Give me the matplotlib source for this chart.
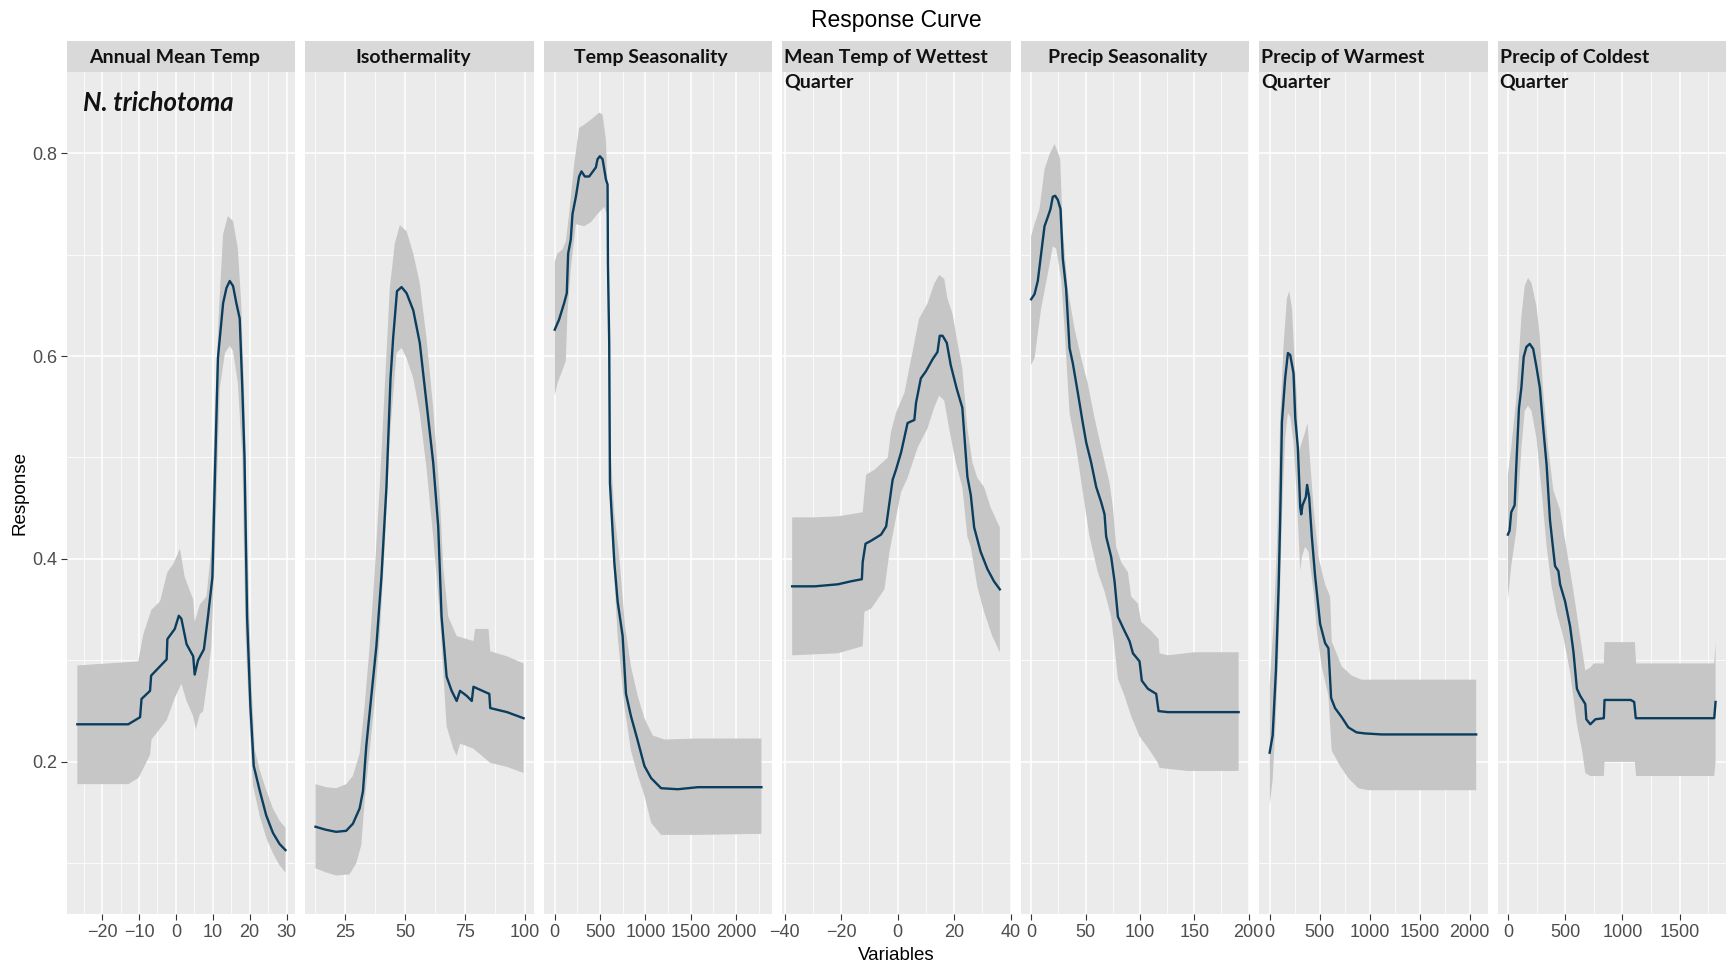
import numpy as np
import matplotlib
matplotlib.use("Agg")
from matplotlib import pyplot as plt
from matplotlib.ticker import MultipleLocator
from matplotlib.patches import Rectangle

# ---- data (x, response, upper/lower band) ----
amt_x = [-26.7, -12.9, -9.7, -9.3, -7.0, -6.7, -2.5, -2.3, -0.3, 0.8, 1.5, 2.9, 4.7, 5.1, 6.0, 7.6, 8.7, 9.9, 10.5,
         11.4, 12.8, 13.7, 14.6, 15.5, 16.4, 17.3, 18.0, 18.6, 19.3, 20.2, 21.1, 22.7, 24.5, 26.3, 28.1, 29.7]
amt_y = [0.237, 0.237, 0.244, 0.262, 0.270, 0.285, 0.301, 0.321, 0.331, 0.344, 0.341, 0.316, 0.304, 0.286, 0.300,
         0.311, 0.343, 0.382, 0.470, 0.598, 0.652, 0.667, 0.674, 0.669, 0.652, 0.637, 0.569, 0.500, 0.343, 0.255,
         0.196, 0.172, 0.147, 0.130, 0.119, 0.113]
amt_hi_x = [-26.7, -10.2, -8.8, -6.6, -4.3, -2.3, -0.7, 1.1, 2.4, 4.7, 5.1, 6.5, 8.3, 9.6, 10.5, 11.7, 12.8, 14.1,
            15.5, 16.8, 17.7, 18.6, 19.5, 20.5, 21.4, 22.7, 24.5, 26.3, 28.1, 29.7]
amt_hi = [0.295, 0.299, 0.326, 0.350, 0.358, 0.387, 0.395, 0.410, 0.382, 0.360, 0.338, 0.355, 0.363, 0.410, 0.540,
          0.647, 0.720, 0.738, 0.733, 0.706, 0.652, 0.554, 0.398, 0.275, 0.212, 0.192, 0.172, 0.154, 0.142, 0.135]
amt_lo_x = [-26.7, -12.9, -10.2, -9.3, -7.0, -6.6, -2.5, -0.3, 1.5, 2.9, 4.7, 5.4, 6.5, 7.4, 8.7, 9.6, 10.5, 11.9,
            13.3, 14.6, 15.5, 16.8, 18.0, 18.9, 20.0, 20.9, 22.7, 24.5, 26.3, 28.1, 29.7]
amt_lo = [0.178, 0.178, 0.184, 0.190, 0.207, 0.222, 0.241, 0.263, 0.277, 0.260, 0.245, 0.232, 0.247, 0.250, 0.284,
          0.314, 0.397, 0.568, 0.603, 0.610, 0.605, 0.573, 0.500, 0.324, 0.236, 0.177, 0.147, 0.125, 0.110, 0.098,
          0.091]

iso_x = [12.6, 17.0, 21.2, 25.4, 28.2, 31.0, 32.4, 33.8, 35.9, 38.0, 40.1, 42.2, 43.9, 45.0, 46.6, 48.5, 50.6, 53.4,
         56.1, 58.9, 61.7, 63.8, 65.2, 67.3, 69.4, 71.5, 72.9, 75.7, 77.8, 78.5, 81.3, 85.1, 85.5, 92.5, 99.4]
iso_y = [0.136, 0.133, 0.131, 0.132, 0.139, 0.154, 0.171, 0.216, 0.265, 0.314, 0.382, 0.471, 0.578, 0.618, 0.664,
         0.668, 0.662, 0.645, 0.613, 0.554, 0.495, 0.432, 0.343, 0.284, 0.270, 0.260, 0.270, 0.265, 0.260, 0.274,
         0.271, 0.267, 0.253, 0.249, 0.243]
iso_hi_x = [12.6, 17.0, 21.2, 25.4, 28.2, 31.0, 33.1, 35.2, 37.3, 39.4, 41.5, 43.6, 45.7, 47.8, 50.6, 53.4, 56.1,
            58.9, 61.7, 64.5, 65.9, 68.0, 71.5, 78.5, 79.2, 84.8, 85.5, 92.5, 99.4]
iso_hi = [0.178, 0.175, 0.174, 0.178, 0.186, 0.208, 0.255, 0.314, 0.387, 0.471, 0.569, 0.667, 0.711, 0.729, 0.723,
          0.701, 0.672, 0.618, 0.549, 0.460, 0.392, 0.343, 0.324, 0.319, 0.331, 0.331, 0.309, 0.304, 0.297]
iso_lo_x = [12.6, 17.0, 21.2, 26.8, 29.6, 31.7, 33.1, 35.2, 37.3, 39.4, 41.5, 43.6, 46.4, 48.5, 50.6, 53.4, 56.1,
            58.9, 61.7, 64.5, 67.3, 70.1, 71.5, 72.9, 78.5, 85.5, 92.5, 99.4]
iso_lo = [0.095, 0.091, 0.088, 0.089, 0.100, 0.118, 0.161, 0.211, 0.260, 0.324, 0.412, 0.520, 0.603, 0.608, 0.598,
          0.578, 0.544, 0.490, 0.422, 0.343, 0.235, 0.213, 0.206, 0.218, 0.213, 0.199, 0.195, 0.189]

ts_x = [0, 48, 103, 133, 148, 177, 196, 233, 269, 295, 332, 380, 454, 472, 498, 528, 565, 583, 587, 601, 609, 627,
        657, 694, 749, 786, 841, 915, 989, 1063, 1173, 1358, 1579, 2280]
ts_y = [0.626, 0.636, 0.652, 0.662, 0.701, 0.715, 0.740, 0.757, 0.777, 0.782, 0.777, 0.777, 0.786, 0.794, 0.797,
        0.794, 0.774, 0.769, 0.691, 0.613, 0.475, 0.446, 0.397, 0.358, 0.324, 0.267, 0.245, 0.221, 0.196, 0.184,
        0.174, 0.173, 0.175, 0.175]
ts_hi_x = [0, 30, 85, 122, 159, 214, 269, 325, 399, 491, 528, 565, 583, 600, 615, 657, 712, 775, 841, 915, 989,
           1081, 1210, 1579, 2280]
ts_hi = [0.693, 0.701, 0.705, 0.713, 0.740, 0.789, 0.825, 0.828, 0.833, 0.840, 0.838, 0.813, 0.764, 0.620, 0.510,
         0.446, 0.402, 0.334, 0.294, 0.265, 0.243, 0.226, 0.222, 0.223, 0.223]
ts_lo_x = [0, 30, 122, 140, 177, 233, 325, 399, 472, 546, 576, 590, 603, 638, 694, 768, 841, 915, 989, 1063, 1173,
           1579, 2280]
ts_lo = [0.561, 0.573, 0.595, 0.642, 0.686, 0.730, 0.728, 0.732, 0.740, 0.747, 0.740, 0.620, 0.470, 0.412, 0.324,
         0.255, 0.211, 0.187, 0.167, 0.140, 0.128, 0.128, 0.129]

mtw_x = [-37.4, -29.4, -21.2, -16.5, -12.7, -12.4, -11.4, -9.4, -5.9, -4.1, -2.9, -1.8, -0.6, 1.2, 3.5, 5.9, 6.5,
         8.2, 10.0, 12.4, 14.1, 14.9, 15.9, 17.4, 18.8, 20.9, 22.9, 24.7, 25.9, 27.1, 29.4, 31.8, 34.1, 36.2]
mtw_y = [0.373, 0.373, 0.375, 0.378, 0.380, 0.397, 0.415, 0.418, 0.424, 0.432, 0.456, 0.478, 0.488, 0.505, 0.534,
         0.537, 0.554, 0.578, 0.585, 0.597, 0.604, 0.620, 0.620, 0.613, 0.591, 0.568, 0.549, 0.481, 0.463, 0.431,
         0.407, 0.390, 0.378, 0.370]
mtw_hi_x = [-37.4, -29.4, -21.2, -12.4, -11.2, -8.2, -3.5, -2.4, -0.6, 2.4, 4.1, 7.6, 10.6, 12.9, 14.7, 16.5, 17.6,
            19.4, 21.2, 22.9, 24.7, 26.5, 28.2, 30.6, 32.9, 36.2]
mtw_hi = [0.441, 0.441, 0.442, 0.446, 0.483, 0.488, 0.500, 0.525, 0.544, 0.564, 0.588, 0.637, 0.652, 0.671, 0.680,
          0.676, 0.657, 0.642, 0.613, 0.588, 0.529, 0.495, 0.480, 0.471, 0.451, 0.431]
mtw_lo_x = [-37.4, -21.2, -12.4, -11.8, -9.4, -4.7, -2.9, -0.6, 1.2, 3.5, 7.1, 10.6, 12.9, 14.7, 16.5, 18.2, 20.6,
            22.9, 24.7, 25.9, 28.2, 30.6, 33.5, 36.2]
mtw_lo = [0.305, 0.307, 0.314, 0.348, 0.351, 0.370, 0.407, 0.441, 0.466, 0.480, 0.510, 0.529, 0.549, 0.561, 0.556,
          0.529, 0.495, 0.471, 0.422, 0.412, 0.373, 0.348, 0.324, 0.308]

ps_x = [0, 3.1, 6.1, 9.2, 12.3, 15.3, 17.8, 19.9, 22.1, 24.5, 27.0, 29.1, 32.2, 35.3, 38.3, 42.9, 47.5, 50.6, 55.2,
        59.8, 64.4, 67.5, 69.0, 73.6, 76.7, 79.8, 85.9, 90.5, 93.6, 99.7, 101.8, 107.4, 115.0, 117.2, 125.8, 190.8]
ps_y = [0.656, 0.661, 0.674, 0.701, 0.728, 0.737, 0.745, 0.757, 0.758, 0.754, 0.745, 0.696, 0.666, 0.608, 0.593,
        0.564, 0.534, 0.515, 0.495, 0.471, 0.456, 0.444, 0.422, 0.402, 0.378, 0.343, 0.329, 0.319, 0.307, 0.299,
        0.280, 0.272, 0.267, 0.250, 0.249, 0.249]
ps_hi_x = [0, 3.1, 7.7, 12.3, 16.9, 21.5, 24.5, 26.7, 29.1, 33.7, 39.9, 46.0, 52.1, 58.3, 64.4, 72.1, 75.2, 78.2,
           82.8, 89.0, 92.0, 98.2, 101.2, 110.4, 117.2, 118.1, 125.8, 150.0, 190.8]
ps_hi = [0.718, 0.730, 0.745, 0.784, 0.799, 0.809, 0.801, 0.794, 0.725, 0.666, 0.627, 0.598, 0.573, 0.539, 0.510,
         0.475, 0.451, 0.412, 0.397, 0.387, 0.363, 0.356, 0.338, 0.329, 0.321, 0.307, 0.305, 0.308, 0.308]
ps_lo_x = [0, 3.1, 9.2, 15.3, 19.9, 23.0, 27.6, 30.7, 35.3, 41.4, 47.5, 53.7, 61.3, 67.5, 73.6, 79.8, 85.9, 92.0,
           99.7, 107.4, 116.6, 118.1, 144.0, 190.8]
ps_lo = [0.591, 0.598, 0.647, 0.681, 0.708, 0.706, 0.676, 0.627, 0.544, 0.510, 0.466, 0.422, 0.387, 0.368, 0.343,
         0.282, 0.265, 0.245, 0.225, 0.214, 0.199, 0.194, 0.191, 0.191]

pwq_x = [0, 30, 63, 90, 106, 123, 156, 183, 206, 239, 256, 282, 306, 316, 329, 362, 375, 395, 422, 455, 505, 555,
         588, 615, 654, 721, 787, 870, 953, 1120, 2066]
pwq_y = [0.209, 0.226, 0.290, 0.373, 0.442, 0.535, 0.579, 0.603, 0.601, 0.583, 0.539, 0.510, 0.451, 0.444, 0.453,
         0.461, 0.473, 0.461, 0.422, 0.383, 0.336, 0.317, 0.312, 0.263, 0.253, 0.244, 0.234, 0.229, 0.228, 0.227,
         0.227]
pwq_hi_x = [0, 40, 73, 106, 140, 173, 196, 223, 249, 272, 289, 322, 355, 379, 395, 439, 488, 555, 605, 621, 721,
            821, 920, 2066]
pwq_hi = [0.275, 0.338, 0.412, 0.539, 0.612, 0.657, 0.664, 0.647, 0.598, 0.559, 0.505, 0.515, 0.525, 0.534, 0.510,
          0.451, 0.402, 0.375, 0.363, 0.319, 0.294, 0.285, 0.281, 0.281]
pwq_lo_x = [0, 30, 63, 90, 123, 156, 183, 209, 239, 272, 306, 322, 355, 389, 439, 472, 521, 588, 621, 704, 787, 887,
            986, 2066]
pwq_lo = [0.157, 0.182, 0.245, 0.314, 0.442, 0.520, 0.544, 0.539, 0.515, 0.461, 0.388, 0.402, 0.412, 0.407, 0.368,
          0.329, 0.294, 0.265, 0.211, 0.196, 0.184, 0.174, 0.172, 0.172]

pcq_x = [0, 15, 29, 59, 74, 97, 118, 138, 162, 191, 221, 250, 279, 309, 338, 368, 397, 412, 441, 456, 500, 544, 573,
         603, 632, 676, 685, 720, 765, 838, 844, 1073, 1103, 1117, 1308, 1802, 1814]
pcq_y = [0.424, 0.428, 0.446, 0.453, 0.493, 0.549, 0.569, 0.599, 0.609, 0.612, 0.607, 0.589, 0.569, 0.529, 0.493,
         0.438, 0.408, 0.393, 0.388, 0.375, 0.358, 0.333, 0.308, 0.272, 0.265, 0.257, 0.242, 0.237, 0.242, 0.243,
         0.261, 0.261, 0.259, 0.243, 0.243, 0.243, 0.259]
pcq_hi_x = [0, 29, 74, 118, 147, 176, 206, 250, 279, 309, 353, 397, 456, 515, 573, 632, 676, 720, 750, 838, 844,
            1109, 1120, 1802, 1814]
pcq_hi = [0.483, 0.509, 0.559, 0.639, 0.669, 0.677, 0.672, 0.649, 0.619, 0.564, 0.509, 0.468, 0.448, 0.408, 0.368,
          0.323, 0.290, 0.293, 0.297, 0.297, 0.318, 0.318, 0.297, 0.297, 0.318]
pcq_lo_x = [0, 29, 74, 118, 147, 176, 206, 250, 294, 338, 382, 426, 485, 544, 603, 647, 676, 720, 838, 844, 1109,
            1120, 1802, 1814]
pcq_lo = [0.360, 0.393, 0.428, 0.509, 0.546, 0.551, 0.546, 0.519, 0.468, 0.413, 0.373, 0.347, 0.323, 0.288, 0.237,
          0.212, 0.189, 0.186, 0.186, 0.200, 0.200, 0.186, 0.186, 0.200]

strip_labels = ["Annual Mean Temp", "Isothermality", "Temp Seasonality", "Mean Temp of Wettest\nQuarter",
                "Precip Seasonality", "Precip of Warmest\nQuarter", "Precip of Coldest\nQuarter"]
major_steps = [10, 25, 500, 20, 50, 500, 500]
x_limits = [(-29.5, 32.4), (8.4, 103.7), (-120, 2400), (-40.9, 40.05), (-9.6, 200.5), (-105, 2180), (-90, 1905)]

panels = [
    (amt_x, amt_y, amt_hi_x, amt_hi, amt_lo_x, amt_lo),
    (iso_x, iso_y, iso_hi_x, iso_hi, iso_lo_x, iso_lo),
    (ts_x, ts_y, ts_hi_x, ts_hi, ts_lo_x, ts_lo),
    (mtw_x, mtw_y, mtw_hi_x, mtw_hi, mtw_lo_x, mtw_lo),
    (ps_x, ps_y, ps_hi_x, ps_hi, ps_lo_x, ps_lo),
    (pwq_x, pwq_y, pwq_hi_x, pwq_hi, pwq_lo_x, pwq_lo),
    (pcq_x, pcq_y, pcq_hi_x, pcq_hi, pcq_lo_x, pcq_lo),
]

W, H = 1726, 968
fig = plt.figure(figsize=(W / 100, H / 100), dpi=100)
fig.patch.set_facecolor("white")

left_px, gap_px = 67, 10
top_px, bottom_px = 72, 914
panel_w = (W - left_px - 6 * gap_px) / 7
panel_h = bottom_px - top_px
strip_h = 31

line_col = "#0B3D5E"
band_col = "#C6C6C6"
tick_font = "Liberation Sans"
strip_txt = "#111111"

for i, (lx, ly, hx, hy, ox, oy) in enumerate(panels):
    x0 = left_px + i * (panel_w + gap_px)
    ax = fig.add_axes([x0 / W, (H - bottom_px) / H, panel_w / W, panel_h / H])
    ax.set_facecolor("#EBEBEB")
    for s in ax.spines.values():
        s.set_visible(False)

    ax.fill(np.r_[hx, ox[::-1]], np.r_[hy, oy[::-1]], color=band_col, lw=0, zorder=2)
    ax.plot(lx, ly, color=line_col, lw=1.7, zorder=3)

    ax.set_xlim(*x_limits[i])
    ax.set_ylim(0.05, 0.88)

    step = major_steps[i]
    ax.xaxis.set_major_locator(MultipleLocator(step))
    ax.xaxis.set_minor_locator(MultipleLocator(step / 2))
    ax.yaxis.set_major_locator(MultipleLocator(0.2))
    ax.yaxis.set_minor_locator(MultipleLocator(0.1))
    ax.grid(which="major", color="white", lw=1.1, zorder=1)
    ax.grid(which="minor", color="white", lw=0.55, zorder=1)
    ax.set_axisbelow(True)

    ax.tick_params(axis="x", which="major", length=4, width=0.8, color="#333333", pad=3,
                   labelsize=13, labelcolor="#4D4D4D")
    ax.tick_params(which="minor", length=0)
    for lab in ax.get_xticklabels():
        lab.set_family(tick_font)
    if i == 0:
        ax.tick_params(axis="y", which="major", length=4, width=0.8, color="#333333", pad=3,
                       labelsize=13, labelcolor="#4D4D4D")
        ax.set_yticks([0.2, 0.4, 0.6, 0.8])
        ax.set_yticklabels(["0.2", "0.4", "0.6", "0.8"], family=tick_font)
    else:
        ax.tick_params(axis="y", which="major", length=0, labelleft=False)

    # facet strip
    sh = strip_h / panel_h
    ax.add_patch(Rectangle((0, 1), 1, sh, transform=ax.transAxes, facecolor="#D9D9D9",
                           edgecolor="none", clip_on=False, zorder=4))
    lab = strip_labels[i]
    base_y = 1 + (top_px - 63) / panel_h
    if "\n" in lab:
        first, second = lab.split("\n")
        ax.text(2 / panel_w, base_y, first, transform=ax.transAxes, ha="left", va="baseline",
                fontsize=14, fontweight="bold", family="Lato", color=strip_txt, zorder=5)
        ax.text(2 / panel_w, base_y - 24 / panel_h, second, transform=ax.transAxes, ha="left", va="baseline",
                fontsize=14, fontweight="bold", family="Lato", color=strip_txt, zorder=5)
    else:
        ax.text(0.47, base_y, lab, transform=ax.transAxes, ha="center", va="baseline",
                fontsize=14, fontweight="bold", family="Lato", color=strip_txt, zorder=5)

    if i == 0:
        ax.text(16 / panel_w, 1 - 31 / panel_h, "N. trichotoma", transform=ax.transAxes, ha="left",
                va="center", fontsize=18.5, fontweight="bold", fontstyle="italic", family="Lato",
                color=strip_txt, zorder=5)

mid_x = (left_px + W) / 2 / W
fig.text(mid_x, 1 - 20 / H, "Response Curve", ha="center", va="center", fontsize=16.5, family="Liberation Sans")
fig.text(mid_x, 1 - 955 / H, "Variables", ha="center", va="center", fontsize=13.5, family="Liberation Sans")
fig.text(20 / W, 1 - 493 / H, "Response", ha="center", va="center", rotation=90, fontsize=13.5,
         family="Liberation Sans")

fig.savefig("out.png", dpi=100)
